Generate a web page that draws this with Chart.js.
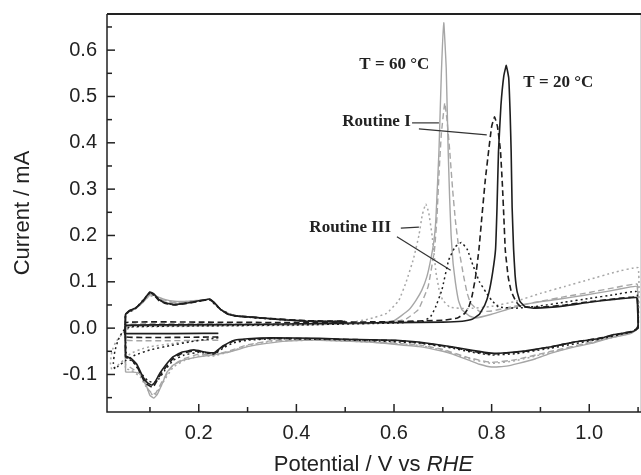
<!DOCTYPE html>
<html>
<head>
<meta charset="utf-8">
<script src="https://cdn.jsdelivr.net/npm/chart.js@4.4.1/dist/chart.umd.min.js"></script>
<style>
  html, body { margin: 0; padding: 0; background: #fff; }
  #wrap { width: 641px; height: 475px; }
</style>
</head>
<body>
<div id="wrap"><canvas id="cv" width="641" height="475"></canvas></div>
<script>
// axis ticks (minor + labelled)
const xTickValues = [0.1, 0.2, 0.3, 0.4, 0.5, 0.6, 0.7, 0.8, 0.9, 1.0, 1.1]
const xTickLabels = [0.2, 0.4, 0.6, 0.8, 1.0]
const yTickValues = [-0.15, -0.1, -0.05, 0.0, 0.05, 0.1, 0.15, 0.2, 0.25, 0.3, 0.35, 0.4, 0.45, 0.5, 0.55, 0.6, 0.65]
const yTickLabels = [-0.1, 0.0, 0.1, 0.2, 0.3, 0.4, 0.5, 0.6]

// [potential / V, current / mA], in scan order
const cv20RoutineII = [[0.24,-0.011],[0.05,-0.011],[0.05,0.006],[0.15,0.007],[0.30,0.008],[0.45,0.010],[0.60,0.012],[0.70,0.013],[0.74,0.015],[0.76,0.019],[0.775,0.030],[0.786,0.050],[0.794,0.075],[0.802,0.120],[0.808,0.170],[0.811,0.260],[0.814,0.380],[0.819,0.480],[0.825,0.545],[0.830,0.567],[0.835,0.540],[0.838,0.460],[0.840,0.380],[0.842,0.260],[0.845,0.170],[0.848,0.115],[0.852,0.080],[0.858,0.058],[0.869,0.046],[0.89,0.043],[0.95,0.048],[1.00,0.056],[1.05,0.062],[1.097,0.066],[1.099,0.040],[1.100,0.005],[1.095,-0.004],[1.086,-0.008],[1.05,-0.014],[1.024,-0.022],[0.97,-0.030],[0.922,-0.040],[0.87,-0.049],[0.83,-0.053],[0.80,-0.054],[0.76,-0.048],[0.718,-0.040],[0.65,-0.030],[0.604,-0.026],[0.50,-0.024],[0.447,-0.022],[0.35,-0.021],[0.30,-0.023],[0.27,-0.027],[0.25,-0.038],[0.232,-0.053],[0.215,-0.052],[0.19,-0.047],[0.165,-0.052],[0.147,-0.062],[0.132,-0.080],[0.12,-0.098],[0.11,-0.117],[0.104,-0.123],[0.095,-0.118],[0.086,-0.106],[0.073,-0.078],[0.062,-0.066],[0.052,-0.061],[0.05,-0.060],[0.05,0.030],[0.058,0.038],[0.07,0.043],[0.085,0.058],[0.10,0.078],[0.108,0.074],[0.118,0.062],[0.13,0.055],[0.15,0.051],[0.175,0.054],[0.20,0.059],[0.222,0.063],[0.232,0.055],[0.245,0.040],[0.26,0.030],[0.28,0.026],[0.33,0.022],[0.37,0.018],[0.42,0.015],[0.50,0.014]]

const cv20RoutineI = [[0.24,-0.019],[0.05,-0.019],[0.05,0.012],[0.2,0.013],[0.4,0.012],[0.6,0.014],[0.7,0.017],[0.73,0.022],[0.745,0.032],[0.753,0.045],[0.76,0.07],[0.767,0.11],[0.774,0.17],[0.78,0.24],[0.787,0.32],[0.794,0.384],[0.8,0.435],[0.806,0.456],[0.812,0.435],[0.818,0.384],[0.822,0.31],[0.825,0.24],[0.828,0.168],[0.834,0.11],[0.84,0.08],[0.85,0.057],[0.86,0.046],[0.9,0.045],[0.95,0.05],[1.0,0.057],[1.05,0.063],[1.097,0.067],[1.1,0.035],[1.1,0.0],[1.086,-0.007],[1.024,-0.021],[0.97,-0.03],[0.922,-0.04],[0.87,-0.05],[0.8,-0.056],[0.76,-0.05],[0.718,-0.041],[0.65,-0.031],[0.604,-0.027],[0.447,-0.023],[0.35,-0.022],[0.3,-0.024],[0.27,-0.028],[0.25,-0.04],[0.232,-0.055],[0.215,-0.053],[0.19,-0.049],[0.165,-0.055],[0.147,-0.066],[0.132,-0.085],[0.12,-0.103],[0.106,-0.128],[0.095,-0.122],[0.086,-0.11],[0.073,-0.082],[0.062,-0.068],[0.052,-0.063],[0.05,-0.062],[0.05,0.028],[0.058,0.037],[0.07,0.043],[0.085,0.057],[0.1,0.077],[0.108,0.072],[0.118,0.06],[0.13,0.054],[0.15,0.05],[0.175,0.053],[0.2,0.058],[0.222,0.062],[0.232,0.054],[0.245,0.04],[0.26,0.03],[0.28,0.026],[0.33,0.022],[0.42,0.016],[0.5,0.015]]

const cv20RoutineIII = [[0.24,-0.02],[0.18,-0.03],[0.14,-0.038],[0.1,-0.047],[0.07,-0.058],[0.05,-0.07],[0.035,-0.082],[0.028,-0.088],[0.025,-0.075],[0.028,-0.05],[0.035,-0.025],[0.045,-0.006],[0.06,0.003],[0.2,0.005],[0.4,0.007],[0.6,0.011],[0.66,0.015],[0.675,0.025],[0.685,0.045],[0.698,0.082],[0.712,0.147],[0.725,0.175],[0.738,0.185],[0.75,0.17],[0.762,0.135],[0.775,0.1],[0.788,0.078],[0.8,0.06],[0.814,0.046],[0.85,0.043],[0.9,0.048],[0.95,0.056],[1.0,0.064],[1.05,0.072],[1.097,0.079],[1.1,0.04],[1.1,0.0],[1.086,-0.008],[1.024,-0.023],[0.922,-0.043],[0.85,-0.055],[0.8,-0.058],[0.76,-0.052],[0.718,-0.043],[0.65,-0.032],[0.55,-0.027],[0.447,-0.024],[0.35,-0.023],[0.3,-0.026],[0.27,-0.032],[0.25,-0.043],[0.232,-0.056],[0.2,-0.052],[0.17,-0.058],[0.147,-0.07],[0.13,-0.092],[0.118,-0.11],[0.108,-0.118],[0.095,-0.113],[0.08,-0.095],[0.065,-0.072],[0.052,-0.064],[0.05,0.03],[0.07,0.042],[0.1,0.076],[0.13,0.054],[0.15,0.051],[0.2,0.058],[0.222,0.061],[0.245,0.04],[0.27,0.027],[0.33,0.021],[0.42,0.015],[0.5,0.014]]

const cv60RoutineII = [[0.24,-0.012],[0.05,-0.012],[0.05,0.004],[0.2,0.005],[0.4,0.007],[0.55,0.01],[0.6,0.016],[0.63,0.039],[0.645,0.06],[0.657,0.082],[0.667,0.11],[0.675,0.147],[0.682,0.19],[0.686,0.24],[0.692,0.38],[0.697,0.55],[0.702,0.659],[0.707,0.56],[0.711,0.38],[0.714,0.28],[0.717,0.2],[0.721,0.14],[0.726,0.097],[0.732,0.06],[0.739,0.04],[0.755,0.026],[0.767,0.022],[0.8,0.03],[0.84,0.043],[0.882,0.054],[0.94,0.063],[0.99,0.071],[1.04,0.08],[1.085,0.089],[1.098,0.09],[1.1,0.05],[1.1,0.0],[1.086,-0.011],[1.04,-0.022],[1.004,-0.033],[0.96,-0.043],[0.922,-0.054],[0.89,-0.066],[0.855,-0.076],[0.83,-0.082],[0.8,-0.084],[0.775,-0.078],[0.753,-0.069],[0.72,-0.056],[0.7,-0.05],[0.651,-0.04],[0.55,-0.03],[0.447,-0.026],[0.38,-0.028],[0.339,-0.033],[0.3,-0.04],[0.284,-0.045],[0.26,-0.052],[0.237,-0.056],[0.2,-0.062],[0.168,-0.069],[0.147,-0.08],[0.135,-0.095],[0.125,-0.12],[0.115,-0.143],[0.108,-0.151],[0.1,-0.145],[0.094,-0.128],[0.087,-0.11],[0.08,-0.098],[0.065,-0.095],[0.052,-0.095],[0.05,-0.094],[0.05,0.03],[0.058,0.037],[0.07,0.042],[0.085,0.055],[0.1,0.072],[0.11,0.07],[0.13,0.062],[0.15,0.058],[0.18,0.058],[0.2,0.06],[0.222,0.062],[0.232,0.055],[0.245,0.04],[0.27,0.028],[0.33,0.022],[0.42,0.016],[0.5,0.014]]

const cv60RoutineI = [[0.24,-0.026],[0.05,-0.026],[0.05,0.008],[0.3,0.009],[0.55,0.012],[0.6,0.014],[0.625,0.02],[0.65,0.04],[0.67,0.09],[0.683,0.17],[0.688,0.24],[0.692,0.33],[0.697,0.42],[0.704,0.486],[0.709,0.445],[0.714,0.384],[0.72,0.3],[0.726,0.23],[0.733,0.17],[0.743,0.11],[0.75,0.075],[0.757,0.054],[0.775,0.036],[0.8,0.037],[0.85,0.048],[0.9,0.058],[0.95,0.068],[1.0,0.077],[1.05,0.087],[1.098,0.095],[1.1,0.05],[1.1,0.0],[1.086,-0.01],[1.004,-0.03],[0.922,-0.05],[0.85,-0.068],[0.8,-0.074],[0.75,-0.063],[0.7,-0.046],[0.65,-0.036],[0.55,-0.029],[0.447,-0.025],[0.35,-0.027],[0.3,-0.036],[0.26,-0.05],[0.23,-0.058],[0.2,-0.056],[0.17,-0.066],[0.147,-0.08],[0.125,-0.115],[0.112,-0.14],[0.106,-0.143],[0.095,-0.13],[0.08,-0.1],[0.06,-0.085],[0.052,-0.08],[0.05,-0.079],[0.05,0.029],[0.07,0.042],[0.1,0.074],[0.11,0.07],[0.13,0.058],[0.15,0.055],[0.2,0.059],[0.222,0.062],[0.245,0.04],[0.27,0.028],[0.33,0.022],[0.42,0.016],[0.5,0.015]]

const cv60RoutineIII = [[0.24,-0.022],[0.18,-0.029],[0.14,-0.034],[0.1,-0.04],[0.08,-0.046],[0.06,-0.055],[0.045,-0.07],[0.03,-0.084],[0.022,-0.09],[0.019,-0.075],[0.022,-0.05],[0.03,-0.03],[0.045,-0.01],[0.06,0.002],[0.2,0.004],[0.4,0.006],[0.5,0.01],[0.55,0.02],[0.585,0.032],[0.61,0.06],[0.625,0.1],[0.64,0.15],[0.651,0.2],[0.658,0.245],[0.665,0.268],[0.671,0.25],[0.678,0.2],[0.686,0.12],[0.693,0.08],[0.7,0.06],[0.715,0.045],[0.75,0.042],[0.8,0.047],[0.85,0.058],[0.9,0.075],[0.95,0.09],[1.0,0.105],[1.05,0.12],[1.1,0.13],[1.1,0.0],[1.086,-0.01],[1.004,-0.031],[0.922,-0.052],[0.85,-0.07],[0.8,-0.076],[0.75,-0.065],[0.7,-0.048],[0.65,-0.037],[0.55,-0.03],[0.447,-0.026],[0.35,-0.028],[0.3,-0.038],[0.26,-0.052],[0.23,-0.06],[0.2,-0.06],[0.17,-0.07],[0.147,-0.085],[0.125,-0.12],[0.113,-0.142],[0.106,-0.145],[0.095,-0.132],[0.08,-0.105],[0.06,-0.09],[0.05,-0.088],[0.05,0.03],[0.07,0.041],[0.1,0.07],[0.13,0.06],[0.15,0.056],[0.2,0.059],[0.222,0.061],[0.245,0.04],[0.27,0.028],[0.33,0.022],[0.42,0.016],[0.5,0.015]]

const BLACK = "#1e1e1e"
const GREY = "#a6a6a6"
const INK = "#222"

function toPoints(curve) {
  return curve.map(p => ({ x: p[0], y: p[1] }))
}

function line(label, curve, color, dash, width) {
  return {
    label: label,
    data: toPoints(curve),
    showLine: true,
    borderColor: color,
    borderWidth: width,
    borderDash: dash,
    pointRadius: 0,
    tension: 0.1,
    fill: false
  }
}

function isLabelled(v, list) {
  return list.some(l => Math.abs(l - v) < 1e-6)
}

// frame, inward ticks, text notes and the x title
const decorations = {
  id: "decorations",
  afterDraw(chart) {
    const ctx = chart.ctx
    const a = chart.chartArea
    const xs = chart.scales.x
    const ys = chart.scales.y
    ctx.save()
    // right side of the box is very faint in the original
    ctx.strokeStyle = "#d8d8d8"
    ctx.lineWidth = 1
    ctx.beginPath()
    ctx.moveTo(a.right - 0.5, a.top)
    ctx.lineTo(a.right - 0.5, a.bottom)
    ctx.stroke()

    ctx.strokeStyle = INK
    ctx.lineWidth = 1.5
    ctx.beginPath()
    ctx.moveTo(a.left, a.top)
    ctx.lineTo(a.left, a.bottom)
    ctx.lineTo(a.right, a.bottom)
    ctx.stroke()
    ctx.lineWidth = 2
    ctx.beginPath()
    ctx.moveTo(a.left, a.top)
    ctx.lineTo(a.right, a.top)
    ctx.stroke()

    ctx.lineWidth = 1.5
    xs.ticks.forEach(t => {
      const px = xs.getPixelForValue(t.value)
      const len = isLabelled(t.value, xTickLabels) ? 8 : 5
      ctx.beginPath()
      ctx.moveTo(px, a.bottom)
      ctx.lineTo(px, a.bottom - len)
      ctx.stroke()
    })
    ys.ticks.forEach(t => {
      const py = ys.getPixelForValue(t.value)
      const len = isLabelled(t.value, yTickLabels) ? 8 : 5
      ctx.beginPath()
      ctx.moveTo(a.left, py)
      ctx.lineTo(a.left + len, py)
      ctx.stroke()
    })

    // notes
    ctx.fillStyle = INK
    ctx.font = "bold 17px 'Liberation Serif', 'Times New Roman', serif"
    ctx.textBaseline = "middle"
    ctx.textAlign = "left"
    ctx.fillText("T = 60 °C", xs.getPixelForValue(0.529), ys.getPixelForValue(0.568))
    ctx.fillText("T = 20 °C", xs.getPixelForValue(0.865), ys.getPixelForValue(0.531))
    ctx.fillText("Routine I", xs.getPixelForValue(0.494), ys.getPixelForValue(0.445))
    ctx.textAlign = "right"
    ctx.fillText("Routine III", xs.getPixelForValue(0.594), ys.getPixelForValue(0.216))

    ctx.lineWidth = 1.2
    ctx.strokeStyle = "#333"
    const leaders = [
      [0.637, 0.443, 0.692, 0.443],
      [0.651, 0.430, 0.790, 0.417],
      [0.614, 0.216, 0.651, 0.218],
      [0.606, 0.197, 0.716, 0.125]
    ]
    leaders.forEach(l => {
      ctx.beginPath()
      ctx.moveTo(xs.getPixelForValue(l[0]), ys.getPixelForValue(l[1]))
      ctx.lineTo(xs.getPixelForValue(l[2]), ys.getPixelForValue(l[3]))
      ctx.stroke()
    })

    // x title with italic RHE
    const plain = "Potential / V vs "
    const ital = "RHE"
    const f1 = "22px 'Liberation Sans', Arial, sans-serif"
    const f2 = "italic 22px 'Liberation Sans', Arial, sans-serif"
    ctx.font = f1
    const w1 = ctx.measureText(plain).width
    ctx.font = f2
    const w2 = ctx.measureText(ital).width
    const cx = (a.left + 640) / 2
    const x0 = cx - (w1 + w2) / 2
    const ty = 465
    ctx.textAlign = "left"
    ctx.textBaseline = "middle"
    ctx.font = f1
    ctx.fillText(plain, x0, ty)
    ctx.font = f2
    ctx.fillText(ital, x0 + w1, ty)
    ctx.restore()
  }
}

const tickFont = { family: "'Liberation Sans', Arial, sans-serif", size: 20 }

new Chart(document.getElementById("cv").getContext("2d"), {
  type: "scatter",
  data: {
    datasets: [
      line("20 °C, Routine II", cv20RoutineII, BLACK, [], 1.6),
      line("20 °C, Routine I", cv20RoutineI, BLACK, [6, 3.5], 1.6),
      line("20 °C, Routine III", cv20RoutineIII, BLACK, [2, 3], 1.5),
      line("60 °C, Routine II", cv60RoutineII, GREY, [], 1.4),
      line("60 °C, Routine I", cv60RoutineI, GREY, [6, 3.5], 1.4),
      line("60 °C, Routine III", cv60RoutineIII, GREY, [2, 3], 1.5)
    ]
  },
  plugins: [decorations],
  options: {
    responsive: false,
    animation: false,
    layout: { padding: { top: 14, right: 0, left: 0, bottom: 0 } },
    plugins: {
      legend: { display: false },
      tooltip: { enabled: false }
    },
    scales: {
      x: {
        type: "linear",
        min: 0.012,
        max: 1.106,
        border: { display: false },
        grid: { display: false, drawTicks: false },
        afterBuildTicks: s => { s.ticks = xTickValues.map(v => ({ value: v })) },
        afterFit: s => { s.height = 63; s.paddingLeft = 0; s.paddingRight = 0 },
        ticks: {
          padding: 9,
          color: INK,
          font: tickFont,
          maxRotation: 0,
          autoSkip: false,
          callback: v => isLabelled(v, xTickLabels) ? v.toFixed(1) : ""
        }
      },
      y: {
        type: "linear",
        min: -0.181,
        max: 0.678,
        border: { display: false },
        grid: { display: false, drawTicks: false },
        afterBuildTicks: s => { s.ticks = yTickValues.map(v => ({ value: v })) },
        afterFit: s => { s.width = 107; s.paddingTop = 0; s.paddingBottom = 0 },
        title: {
          display: true,
          text: "Current / mA",
          color: INK,
          font: { family: "'Liberation Sans', Arial, sans-serif", size: 22, lineHeight: 1 },
          padding: { top: 12, bottom: 0 }
        },
        ticks: {
          padding: 10,
          color: INK,
          font: tickFont,
          autoSkip: false,
          callback: v => isLabelled(v, yTickLabels) ? v.toFixed(1) : ""
        }
      }
    }
  }
})
</script>
</body>
</html>
